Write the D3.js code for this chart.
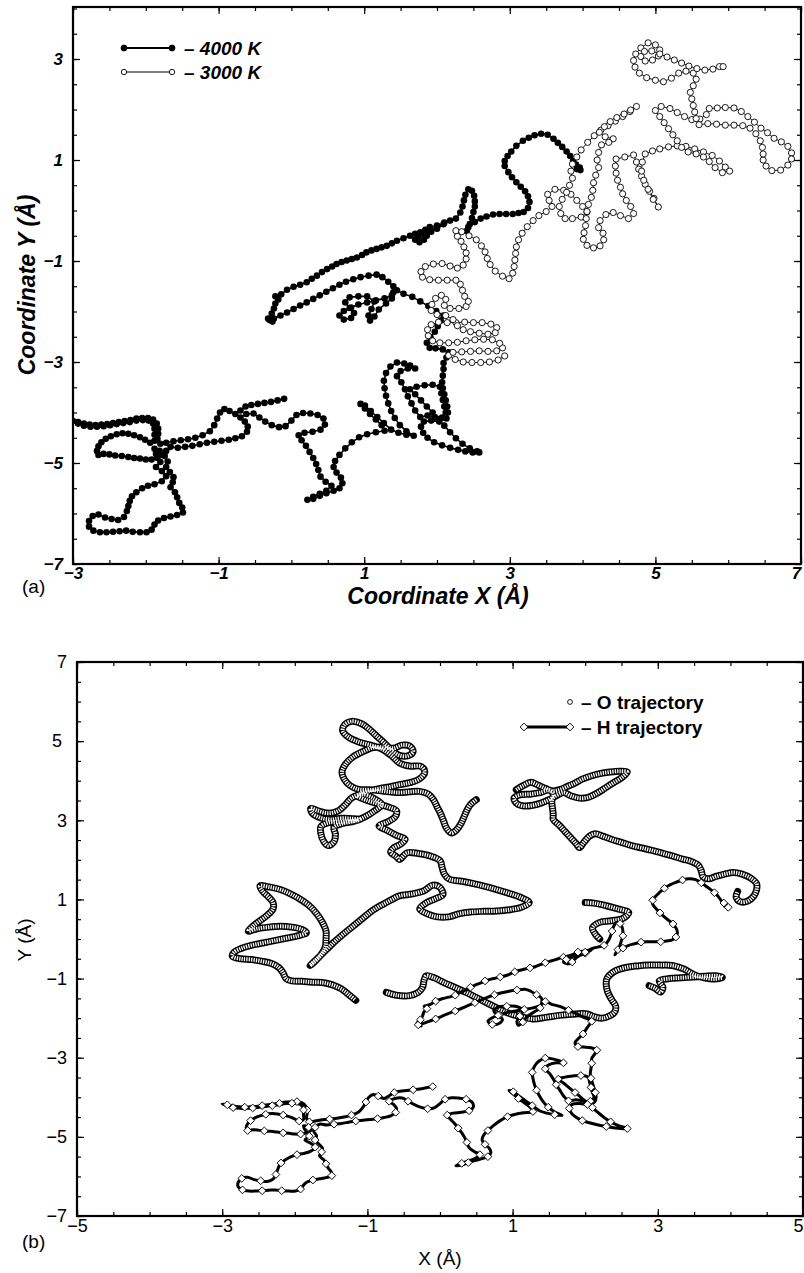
<!DOCTYPE html>
<html>
<head>
<meta charset="utf-8">
<script src="https://cdn.jsdelivr.net/npm/d3@7"></script>
<style>
  body { margin: 0; background: #fff; }
  svg { display: block; }
</style>
</head>
<body>
<svg id="chart" width="804" height="1273"></svg>
<script>
// ---- tick labels ----
const xTicksA = [-3, -1, 1, 3, 5, 7];
const yTicksA = [-7, -5, -3, -1, 1, 3];
const xTicksB = [-5, -3, -1, 1, 3, 5];
const yTicksB = [-7, -5, -3, -1, 1, 3, 5, 7];
const legendA = ['4000 K', '3000 K'];
const legendB = ['O trajectory', 'H trajectory'];

// ---- 4000 K run (same H track is shown in panel b) ----
const traj4000 = [
[-0.10,-3.73],[-0.19,-3.76],[-0.28,-3.79],[-0.37,-3.81],[-0.46,-3.83],[-0.55,-3.85],[-0.63,-3.88],[-0.70,-3.96],[-0.77,-4.03],[-0.85,-3.97],[-0.92,-3.93],[-0.98,-4.00],[-1.02,-4.12],[-1.06,-4.25],[-1.12,-4.37],[-1.22,-4.45],[-1.32,-4.50],[-1.42,-4.53],[-1.52,-4.55],[-1.62,-4.57],[-1.72,-4.60],[-1.80,-4.62],
[-1.84,-4.52],[-1.83,-4.42],[-1.83,-4.32],[-1.85,-4.22],[-1.90,-4.14],
[-1.97,-4.11],[-2.05,-4.11],[-2.13,-4.12],[-2.21,-4.15],[-2.29,-4.17],[-2.37,-4.19],[-2.45,-4.21],[-2.53,-4.23],[-2.61,-4.24],[-2.69,-4.25],[-2.77,-4.24],[-2.85,-4.22],[-2.93,-4.19],[-3.00,-4.17],
[-2.93,-4.22],[-2.85,-4.26],[-2.76,-4.28],[-2.67,-4.28],[-2.58,-4.27],[-2.49,-4.25],[-2.40,-4.23],[-2.31,-4.21],[-2.22,-4.19],[-2.13,-4.16],[-2.04,-4.15],[-1.96,-4.16],[-1.90,-4.22],[-1.88,-4.32],[-1.88,-4.44],[-1.88,-4.56],
[-1.94,-4.60],[-2.01,-4.54],[-2.08,-4.49],[-2.16,-4.45],[-2.24,-4.42],[-2.32,-4.41],[-2.40,-4.43],[-2.48,-4.47],[-2.55,-4.52],[-2.61,-4.59],[-2.65,-4.67],[-2.67,-4.76],[-2.65,-4.84],
[-2.58,-4.82],[-2.50,-4.83],[-2.42,-4.85],[-2.33,-4.86],[-2.24,-4.88],[-2.16,-4.90],[-2.08,-4.91],[-2.00,-4.93],[-1.92,-4.93],[-1.84,-4.90],[-1.78,-4.84],[-1.81,-4.76],[-1.88,-4.72],[-1.86,-4.82],
[-1.80,-4.98],[-1.86,-5.08],[-1.78,-5.16],[-1.72,-5.26],[-1.78,-5.36],[-1.88,-5.42],[-1.97,-5.45],[-2.05,-5.50],[-2.13,-5.58],[-2.19,-5.66],[-2.22,-5.75],[-2.24,-5.85],[-2.26,-5.95],[-2.30,-6.07],[-2.38,-6.13],[-2.47,-6.11],[-2.56,-6.08],[-2.65,-6.02],[-2.73,-6.05],[-2.78,-6.15],[-2.78,-6.26],[-2.72,-6.34],[-2.63,-6.37],[-2.54,-6.37],[-2.45,-6.36],[-2.36,-6.35],[-2.27,-6.34],[-2.18,-6.36],[-2.08,-6.37],[-1.99,-6.37],[-1.92,-6.32],[-1.88,-6.22],[-1.83,-6.14],[-1.75,-6.09],[-1.66,-6.06],[-1.57,-6.03],[-1.49,-5.98],[-1.50,-5.88],[-1.54,-5.79],[-1.57,-5.68],[-1.60,-5.58],[-1.66,-5.48],[-1.63,-5.38],[-1.62,-5.28],[-1.67,-5.18],[-1.72,-5.08],[-1.70,-4.97],[-1.74,-4.86],[-1.72,-4.76],[-1.66,-4.68],
[-1.56,-4.70],[-1.46,-4.68],[-1.36,-4.66],[-1.26,-4.63],[-1.16,-4.60],[-1.06,-4.58],[-0.96,-4.56],[-0.86,-4.54],[-0.77,-4.51],[-0.68,-4.47],[-0.61,-4.38],[-0.60,-4.28],[-0.64,-4.18],[-0.70,-4.10],[-0.62,-4.03],[-0.52,-4.02],[-0.44,-4.10],[-0.36,-4.18],[-0.27,-4.25],[-0.17,-4.29],[-0.08,-4.27],
[0.00,-4.16],[0.07,-4.05],[0.16,-4.01],[0.26,-4.02],[0.36,-4.05],[0.44,-4.12],[0.46,-4.24],[0.40,-4.34],[0.29,-4.38],[0.18,-4.40],[0.10,-4.45],[0.14,-4.55],[0.20,-4.66],[0.25,-4.78],[0.30,-4.90],[0.34,-5.02],[0.37,-5.14],[0.40,-5.27],[0.47,-5.37],[0.55,-5.45],[0.48,-5.55],[0.39,-5.61],[0.30,-5.67],[0.22,-5.73],[0.30,-5.71],[0.39,-5.65],[0.48,-5.60],[0.58,-5.55],[0.66,-5.50],[0.70,-5.40],[0.68,-5.29],[0.62,-5.19],[0.58,-5.08],[0.60,-4.96],[0.66,-4.84],[0.74,-4.71],[0.83,-4.59],[0.93,-4.49],[1.04,-4.43],[1.16,-4.39],[1.28,-4.36],
[1.24,-4.25],[1.16,-4.14],[1.08,-4.03],[1.01,-3.92],[0.95,-3.83],[1.01,-3.86],[1.09,-3.97],[1.18,-4.09],[1.27,-4.21],[1.37,-4.34],[1.47,-4.40],[1.58,-4.44],[1.68,-4.46],
[1.58,-4.37],[1.49,-4.25],[1.42,-4.11],[1.37,-3.97],[1.33,-3.82],[1.30,-3.67],[1.28,-3.52],[1.27,-3.37],[1.30,-3.22],[1.36,-3.09],[1.45,-3.01],[1.55,-3.03],[1.63,-3.07],[1.70,-3.13],[1.60,-3.13],[1.50,-3.18],[1.45,-3.28],[1.51,-3.40],[1.56,-3.54],[1.60,-3.68],[1.65,-3.82],[1.70,-3.96],[1.77,-4.09],[1.87,-4.06],[1.97,-4.09],[2.07,-4.10],[2.12,-4.00],[2.10,-3.88],[2.08,-3.75],[2.06,-3.62],[2.04,-3.49],[1.94,-3.45],[1.83,-3.46],[1.72,-3.49],[1.63,-3.54],[1.70,-3.64],[1.78,-3.76],[1.86,-3.88],[1.94,-4.00],[2.02,-4.13],[2.10,-4.26],[2.18,-4.39],[2.26,-4.51],[2.35,-4.62],[2.45,-4.71],[2.55,-4.77],[2.58,-4.79],[2.49,-4.79],[2.39,-4.77],[2.29,-4.74],[2.18,-4.70],[2.07,-4.65],[1.96,-4.59],[1.87,-4.50],[1.81,-4.40],[1.78,-4.28],[1.82,-4.18],[1.92,-4.16],[2.03,-4.18],[2.13,-4.12],[2.15,-4.00],[2.14,-3.88],[2.12,-3.76],[2.10,-3.64],[2.08,-3.52],[2.07,-3.40],[2.08,-3.27],[2.09,-3.14],[2.09,-3.02],
[2.13,-2.91],[2.16,-2.81],[2.08,-2.75],[1.98,-2.73],[1.90,-2.72],[1.86,-2.62],[1.91,-2.51],[1.97,-2.40],[2.01,-2.29],[2.05,-2.18],[2.09,-2.08],
[1.99,-1.99],[1.88,-1.89],[1.77,-1.80],[1.66,-1.71],[1.54,-1.65],[1.45,-1.58],
[1.38,-1.68],[1.28,-1.74],[1.16,-1.78],[1.04,-1.82],[0.92,-1.86],[0.82,-1.92],[0.72,-1.99],[0.66,-2.08],[0.72,-2.16],[0.82,-2.13],[0.86,-2.03],[0.80,-1.93],[0.74,-1.82],[0.80,-1.72],[0.92,-1.70],[1.04,-1.70],[1.14,-1.80],[1.10,-1.95],[1.06,-2.08],[1.08,-2.18],[1.14,-2.10],[1.20,-1.96],[1.30,-1.84],[1.38,-1.74],[1.40,-1.62],[1.40,-1.50],
[1.33,-1.41],[1.25,-1.32],[1.17,-1.27],[1.06,-1.29],[0.95,-1.32],[0.85,-1.36],[0.75,-1.41],[0.66,-1.47],[0.57,-1.54],[0.48,-1.61],[0.39,-1.68],[0.30,-1.75],[0.21,-1.82],[0.12,-1.88],[0.03,-1.95],[-0.06,-2.02],[-0.15,-2.08],[-0.24,-2.14],[-0.30,-2.17],
[-0.26,-2.20],[-0.32,-2.14],[-0.27,-2.04],[-0.24,-1.94],[-0.22,-1.84],[-0.18,-1.76],[-0.22,-1.70],[-0.14,-1.66],[-0.06,-1.57],[0.03,-1.51],[0.12,-1.47],[0.21,-1.42],[0.28,-1.35],[0.35,-1.29],[0.42,-1.22],[0.49,-1.16],[0.56,-1.11],[0.62,-1.06],[0.69,-1.02],[0.76,-0.99],[0.83,-0.96],[0.90,-0.93],[0.97,-0.88],[1.03,-0.83],[1.10,-0.79],[1.17,-0.76],[1.24,-0.73],[1.31,-0.70],[1.38,-0.65],[1.45,-0.60],[1.54,-0.55],[1.63,-0.50],[1.70,-0.46],[1.77,-0.43],[1.84,-0.38],[1.90,-0.33],[2.00,-0.30],[2.09,-0.27],
[2.00,-0.36],[1.92,-0.42],[1.86,-0.50],[1.82,-0.58],[1.76,-0.63],[1.70,-0.58],[1.74,-0.52],[1.80,-0.46],[1.90,-0.40],[2.00,-0.33],[2.10,-0.24],[2.18,-0.20],[2.26,-0.16],
[2.32,-0.04],[2.35,0.08],[2.37,0.20],[2.39,0.31],[2.43,0.42],[2.48,0.39],[2.51,0.29],[2.52,0.18],[2.52,0.08],[2.50,-0.03],[2.48,-0.15],[2.45,-0.27],[2.41,-0.40],[2.43,-0.33],[2.52,-0.23],[2.60,-0.16],[2.68,-0.12],[2.77,-0.08],[2.86,-0.07],[2.95,-0.07],[3.04,-0.07],[3.12,-0.05],[3.19,-0.03],[3.25,0.05],[3.27,0.17],[3.25,0.28],[3.21,0.38],[3.15,0.47],[3.09,0.56],[3.03,0.66],[2.98,0.76],[2.93,0.88],[2.93,0.98],[2.97,1.08],[3.02,1.17],[3.09,1.28],[3.18,1.38],[3.26,1.44],[3.34,1.49],[3.43,1.52],[3.52,1.50],[3.60,1.42],[3.66,1.34],[3.72,1.26],[3.78,1.17],[3.83,1.08],[3.87,0.98],[3.91,0.91],[3.96,0.85],[3.92,0.82],[3.97,0.80]
];

// ---- 3000 K run ----
const traj3000 = [
[2.93,-2.88],[2.84,-2.96],[2.72,-3.00],[2.60,-3.01],[2.48,-3.01],[2.36,-3.00],[2.25,-2.95],[2.16,-2.87],[2.22,-2.81],[2.34,-2.80],[2.46,-2.79],[2.58,-2.78],[2.70,-2.79],[2.82,-2.78],[2.90,-2.72],[2.86,-2.63],[2.76,-2.56],[2.64,-2.55],[2.52,-2.56],[2.40,-2.58],[2.28,-2.61],[2.16,-2.62],[2.04,-2.62],[1.94,-2.58],[1.88,-2.48],[1.87,-2.36],[1.92,-2.26],[2.02,-2.21],[2.14,-2.22],[2.26,-2.22],[2.38,-2.21],[2.50,-2.22],[2.62,-2.22],[2.74,-2.25],[2.82,-2.32],[2.80,-2.42],[2.70,-2.45],[2.58,-2.43],[2.46,-2.40],[2.36,-2.36],[2.28,-2.28],[2.22,-2.16],[2.12,-2.08],[2.00,-2.06],[1.92,-1.98],[1.93,-1.86],[1.98,-1.74],[2.06,-1.68],[2.12,-1.76],[2.10,-1.88],[2.18,-1.94],[2.30,-1.94],[2.40,-1.90],[2.43,-1.80],[2.38,-1.70],[2.35,-1.58],[2.32,-1.46],[2.26,-1.38],[2.14,-1.38],[2.02,-1.38],[1.90,-1.37],[1.80,-1.32],[1.78,-1.21],[1.84,-1.11],[1.95,-1.06],[2.07,-1.05],[2.18,-1.10],[2.28,-1.14],[2.36,-1.08],[2.40,-0.96],[2.40,-0.84],[2.37,-0.72],[2.33,-0.61],[2.28,-0.51],[2.26,-0.40],
[2.34,-0.42],[2.44,-0.50],[2.54,-0.58],[2.61,-0.70],[2.66,-0.82],[2.69,-0.95],[2.73,-1.07],[2.80,-1.20],[2.90,-1.30],[2.99,-1.35],[3.04,-1.24],[3.06,-1.11],[3.07,-0.98],[3.08,-0.85],[3.09,-0.72],[3.12,-0.58],[3.17,-0.45],[3.24,-0.32],[3.32,-0.20],[3.40,-0.10],[3.50,-0.02],[3.58,0.08],[3.54,0.20],[3.52,0.32],[3.62,0.42],[3.74,0.40],[3.84,0.32],[3.92,0.20],[4.00,0.08],[4.06,-0.03],[3.98,-0.13],[3.86,-0.16],[3.76,-0.16],[3.70,-0.06],[3.68,0.08],[3.72,0.22],[3.78,0.36],[3.82,0.50],[3.86,0.64],[3.84,0.78],[3.86,0.92],[3.92,1.06],[3.98,1.20],
[4.07,1.35],[4.16,1.48],[4.25,1.59],[4.35,1.68],[4.45,1.77],[4.55,1.86],[4.65,1.96],[4.74,2.06],[4.66,1.99],[4.57,1.91],[4.47,1.84],[4.38,1.76],[4.30,1.66],[4.23,1.55],[4.31,1.46],[4.42,1.42],[4.36,1.35],[4.26,1.30],
[4.22,1.15],[4.20,1.00],[4.22,0.85],[4.18,0.70],[4.15,0.55],[4.14,0.40],[4.12,0.26],[4.08,0.12],[4.06,-0.02],[4.05,-0.16],[4.04,-0.30],[4.02,-0.44],[4.01,-0.57],[4.06,-0.69],[4.15,-0.74],[4.24,-0.70],[4.29,-0.58],[4.28,-0.45],[4.22,-0.34],[4.24,-0.20],[4.32,-0.08],[4.42,-0.04],[4.52,-0.10],[4.63,-0.16],[4.70,-0.06],[4.66,0.08],[4.60,0.20],[4.55,0.33],[4.52,0.46],[4.48,0.60],[4.46,0.74],[4.45,0.88],[4.46,1.02],
[4.58,1.06],[4.70,1.10],[4.74,0.96],[4.77,0.82],[4.81,0.68],[4.86,0.52],[4.92,0.38],[4.98,0.24],[5.04,0.07],[4.97,0.22],[4.90,0.42],[4.84,0.60],[4.81,0.78],[4.82,0.96],[4.86,1.12],[4.96,1.18],[5.06,1.22],[5.18,1.26],[5.30,1.28],[5.42,1.27],[5.54,1.22],[5.66,1.16],[5.78,1.09],[5.88,0.98],[5.96,0.86],[6.02,0.78],[5.92,0.75],[5.82,0.85],[5.74,0.97],[5.66,1.06],
[5.56,1.12],[5.45,1.16],[5.36,1.25],[5.30,1.38],[5.24,1.50],[5.18,1.62],[5.12,1.74],[5.06,1.86],[5.00,1.98],[5.08,2.06],[5.20,2.02],[5.30,1.94],[5.40,1.86],[5.50,1.80],[5.61,1.81],[5.70,1.90],[5.74,2.02],
[5.85,2.03],[5.96,2.04],[6.08,2.03],[6.18,1.96],[6.27,1.86],[6.36,1.75],[6.45,1.63],[6.54,1.54],[6.63,1.43],[6.73,1.36],[6.82,1.27],[6.87,1.14],[6.87,1.02],[6.82,0.90],[6.72,0.80],[6.60,0.79],[6.52,0.88],[6.48,1.00],[6.48,1.12],[6.47,1.25],[6.44,1.38],[6.38,1.52],[6.30,1.63],[6.20,1.68],[6.08,1.69],[5.96,1.69],[5.84,1.71],[5.72,1.72],[5.60,1.70],
[5.56,1.82],[5.54,1.95],[5.52,2.08],[5.50,2.21],[5.48,2.34],[5.52,2.47],[5.56,2.60],[5.52,2.72],[5.42,2.76],
[5.32,2.72],[5.22,2.62],[5.11,2.55],[5.00,2.58],[4.88,2.63],[4.78,2.72],[4.72,2.84],[4.70,2.97],[4.73,3.10],[4.80,3.22],[4.90,3.32],[5.00,3.28],[5.06,3.18],[5.04,3.06],[4.96,2.98],[4.86,2.96],[4.80,3.05],[4.85,3.15],[4.95,3.16],[5.06,3.10],[5.16,3.04],[5.26,2.98],[5.36,2.92],[5.46,2.86],[5.57,2.81],[5.68,2.78],[5.79,2.80],[5.88,2.85],[5.93,2.85]
];

// ---- O trajectory (panel b); null marks a break between pieces ----
const trajO = [
[0.50,3.52],[0.42,3.40],[0.37,3.25],[0.33,3.08],[0.29,2.92],[0.23,2.76],[0.16,2.68],[0.09,2.80],[0.05,2.98],[0.01,3.16],[-0.04,3.34],[-0.09,3.52],[-0.16,3.66],[-0.28,3.73],[-0.42,3.72],[-0.56,3.70],[-0.70,3.72],[-0.84,3.75],[-0.98,3.77],[-1.12,3.78],[-1.24,3.88],[-1.32,4.04],[-1.35,4.22],[-1.30,4.42],[-1.20,4.60],[-1.06,4.74],[-0.92,4.84],[-0.78,4.84],[-0.64,4.82],[-0.52,4.90],[-0.42,4.88],[-0.37,4.74],[-0.44,4.63],[-0.56,4.64],[-0.66,4.76],[-0.76,4.94],[-0.88,5.14],[-0.98,5.31],[-1.08,5.44],[-1.22,5.50],[-1.32,5.40],[-1.34,5.26],[-1.26,5.10],[-1.12,4.98],[-0.96,4.90],[-0.80,4.80],[-0.66,4.62],[-0.56,4.45],[-0.42,4.37],[-0.26,4.36],[-0.21,4.22],[-0.28,4.05],[-0.42,3.95],[-0.56,3.90],[-0.70,3.84],[-0.84,3.80],[-0.98,3.74],[-1.10,3.66],[-1.22,3.56],[-1.30,3.40],[-1.40,3.24],[-1.54,3.18],[-1.68,3.24],[-1.78,3.30],[-1.76,3.18],[-1.64,3.06],[-1.50,3.02],[-1.36,3.05],[-1.22,3.04],[-1.10,3.02],[-1.22,2.98],[-1.38,2.96],[-1.54,2.94],[-1.64,2.84],[-1.64,2.66],[-1.60,2.46],[-1.54,2.36],[-1.46,2.46],[-1.44,2.64],[-1.46,2.82],[-1.34,2.92],[-1.18,2.98],[-1.02,3.10],[-0.90,3.24],[-0.80,3.40],[-0.92,3.56],[-1.06,3.66],[-1.14,3.62],[-1.00,3.50],[-0.86,3.42],[-0.72,3.34],[-0.60,3.24],[-0.62,3.08],[-0.72,2.96],[-0.84,2.86],[-0.72,2.74],[-0.60,2.62],[-0.48,2.52],[-0.54,2.40],[-0.64,2.30],[-0.68,2.20],[-0.60,2.08],[-0.56,2.01],[-0.45,2.18],[-0.30,2.16],[-0.14,2.10],[0.00,1.98],[0.03,1.80],[0.06,1.64],[0.13,1.51],[0.30,1.46],[0.46,1.40],[0.62,1.33],[0.78,1.25],[0.94,1.16],[1.10,1.06],[1.23,0.92],[1.12,0.80],[0.96,0.74],[0.78,0.71],[0.60,0.70],[0.42,0.68],[0.27,0.64],[0.12,0.56],[-0.04,0.56],[-0.18,0.64],[-0.28,0.76],[-0.20,0.90],[-0.06,1.02],[0.04,1.12],[0.00,1.30],[-0.10,1.36],[-0.22,1.22],[-0.38,1.14],[-0.56,1.09],[-0.66,1.00],[-0.76,0.90],[-0.86,0.80],[-0.96,0.68],[-1.06,0.53],[-1.16,0.38],[-1.26,0.23],[-1.36,0.08],[-1.46,-0.08],[-1.56,-0.26],[-1.66,-0.44],[-1.74,-0.58],[-1.79,-0.67],[-1.72,-0.56],[-1.64,-0.40],[-1.58,-0.20],[-1.57,0.00],[-1.57,0.20],[-1.62,0.42],[-1.70,0.64],[-1.80,0.84],[-1.92,1.00],[-2.06,1.14],[-2.20,1.25],[-2.34,1.31],[-2.48,1.34],[-2.44,1.20],[-2.36,1.06],[-2.30,0.92],[-2.30,0.76],[-2.38,0.60],[-2.48,0.46],[-2.58,0.32],[-2.64,0.20],[-2.52,0.26],[-2.36,0.30],[-2.20,0.32],[-2.04,0.30],[-1.90,0.24],[-1.84,0.16],[-1.96,0.08],[-2.12,0.02],[-2.28,-0.04],[-2.44,-0.10],[-2.60,-0.16],[-2.74,-0.24],[-2.84,-0.34],[-2.86,-0.44],[-2.74,-0.50],[-2.60,-0.52],[-2.46,-0.56],[-2.32,-0.62],[-2.22,-0.72],[-2.16,-0.86],[-2.12,-1.00],[-2.04,-1.06],[-1.90,-1.07],[-1.76,-1.09],[-1.62,-1.10],[-1.48,-1.16],[-1.36,-1.26],[-1.26,-1.40],[-1.16,-1.55],
null,
[-0.74,-1.35],[-0.60,-1.42],[-0.42,-1.43],[-0.30,-1.35],[-0.24,-1.22],[-0.22,-1.05],[-0.19,-0.93],[-0.08,-0.98],[0.04,-1.09],[0.20,-1.22],[0.36,-1.35],[0.50,-1.48],[0.63,-1.60],[0.77,-1.73],[0.91,-1.85],[1.08,-1.95],[1.28,-2.02],[1.46,-1.98],[1.64,-1.93],[1.82,-1.90],[2.01,-1.89],[2.12,-1.96],[2.24,-2.00],[2.40,-1.86],[2.42,-1.70],[2.36,-1.52],[2.31,-1.34],[2.29,-1.16],[2.30,-1.00],[2.40,-0.82],[2.56,-0.72],[2.72,-0.68],[2.88,-0.66],[3.04,-0.66],[3.20,-0.67],[3.36,-0.76],[3.50,-0.90],[3.64,-0.98],[3.78,-1.01],[3.89,-0.97],[3.80,-0.93],[3.64,-0.94],[3.48,-0.96],[3.32,-0.98],[3.16,-1.00],[3.02,-1.06],[3.07,-1.22],[3.04,-1.34],[2.96,-1.24],[2.88,-1.18],
null,
[1.05,3.77],[1.15,3.88],[1.25,3.96],[1.36,3.88],[1.46,3.80],[1.56,3.74],[1.66,3.78],[1.76,3.86],[1.86,3.94],[1.96,4.04],[2.08,4.12],[2.20,4.18],[2.34,4.22],[2.48,4.24],[2.58,4.22],[2.52,4.10],[2.40,3.96],[2.28,3.82],[2.16,3.68],[2.04,3.58],[1.92,3.56],[1.80,3.62],[1.70,3.70],[1.60,3.62],[1.50,3.52],[1.40,3.44],[1.28,3.38],[1.16,3.36],[1.06,3.42],[1.02,3.56],[1.10,3.64],[1.24,3.66],[1.38,3.70],[1.50,3.76],[1.56,3.66],[1.54,3.48],[1.55,3.30],[1.56,3.14],[1.56,3.02],[1.64,2.88],[1.72,2.72],[1.80,2.56],[1.88,2.40],[1.92,2.31],[1.98,2.44],[2.06,2.60],[2.14,2.66],[2.24,2.60],[2.36,2.52],[2.50,2.44],[2.64,2.36],[2.78,2.30],[2.92,2.24],[3.06,2.17],[3.20,2.10],[3.34,2.02],[3.46,1.96],[3.56,1.86],[3.60,1.72],[3.62,1.58],[3.70,1.52],[3.80,1.58],[3.92,1.64],[4.04,1.68],[4.16,1.64],[4.28,1.54],[4.36,1.40],[4.36,1.24],[4.32,1.08],[4.24,0.96],[4.14,0.94],[4.08,1.06],[4.10,1.20],
null,
[2.00,0.92],[2.14,0.90],[2.29,0.84],[2.45,0.76],[2.60,0.67],[2.52,0.52],[2.36,0.46],[2.20,0.42],[2.10,0.28],[2.14,0.12],[2.20,0.00]
];
const trajH = traj4000;

const svg = d3.select('#chart');
const FONT = '"Liberation Sans", Arial, Helvetica, sans-serif';

// scales
const xA = d3.scaleLinear().domain([-3, 7]).range([73, 801]);
const yA = d3.scaleLinear().domain([-7, 4.03]).range([564, 7]);
const xB = d3.scaleLinear().domain([-5, 5]).range([77, 803]);
const yB = d3.scaleLinear().domain([-7, 7]).range([1216, 662]);

function frame(g, x, y, xMajor, yMajor, font) {
    const [x0, x1] = x.range();
    const [y0, y1] = y.range();
    const fmt = d3.format('d');
    const xMinor = d3.range(x.domain()[0], x.domain()[1] + 0.001, 0.5);
    const yMinor = d3.range(Math.ceil(y.domain()[0] * 2) / 2, y.domain()[1] + 0.001, 0.5);
    const axes = [
        [d3.axisBottom(x), `translate(0,${y0})`, xMinor, xMajor, true, font.xPad],
        [d3.axisTop(x), `translate(0,${y1})`, xMinor, xMajor, false, 0],
        [d3.axisLeft(y), `translate(${x0},0)`, yMinor, yMajor, true, font.yPad],
        [d3.axisRight(y), `translate(${x1},0)`, yMinor, yMajor, false, 0]
    ];
    axes.forEach(([ax, tr, minor, major, labels, pad]) => {
        g.append('g').attr('transform', tr)
            .call(ax.tickValues(minor).tickSize(-4).tickFormat(''));
        const gm = g.append('g').attr('transform', tr)
            .call(ax.tickValues(major).tickSize(-7).tickPadding(pad)
                .tickFormat(labels ? fmt : ''));
        gm.attr('font-family', FONT)
          .attr('font-size', font.size)
          .attr('font-weight', font.weight)
          .attr('font-style', font.style);
    });
    g.selectAll('.domain').remove();
    g.selectAll('.tick line').attr('stroke', '#000').attr('stroke-width', 1.2);
    g.selectAll('.tick text').attr('fill', '#000');
    // last x label sits on the page edge: pull it in a little
    g.selectAll('.tick text').filter(d => d === x.domain()[1]).attr('dx', -5);
    g.append('rect')
        .attr('x', x0).attr('y', y1)
        .attr('width', x1 - x0).attr('height', y0 - y1)
        .attr('fill', 'none').attr('stroke', '#000').attr('stroke-width', 2.2);
}

function clipFor(id, x, y) {
    svg.append('clipPath').attr('id', id).append('rect')
        .attr('x', x.range()[0]).attr('y', y.range()[1])
        .attr('width', x.range()[1] - x.range()[0])
        .attr('height', y.range()[0] - y.range()[1]);
}
clipFor('clipA', xA, yA);
clipFor('clipB', xB, yB);

// ================= panel (a) =================
const gA = svg.append('g');
const plotA = gA.append('g').attr('clip-path', 'url(#clipA)');
const lineA = d3.line().x(d => xA(d[0])).y(d => yA(d[1]));

plotA.append('path').datum(traj4000).attr('d', lineA)
    .attr('fill', 'none').attr('stroke', '#000').attr('stroke-width', 1.6);
plotA.selectAll('circle.hot').data(traj4000).join('circle').attr('class', 'hot')
    .attr('cx', d => xA(d[0])).attr('cy', d => yA(d[1])).attr('r', 3.3)
    .attr('fill', '#000');

plotA.append('path').datum(traj3000).attr('d', lineA)
    .attr('fill', 'none').attr('stroke', '#000').attr('stroke-width', 0.9);
plotA.selectAll('circle.cold').data(traj3000).join('circle').attr('class', 'cold')
    .attr('cx', d => xA(d[0])).attr('cy', d => yA(d[1])).attr('r', 3.1)
    .attr('fill', '#fff').attr('stroke', '#000').attr('stroke-width', 0.9);

frame(gA, xA, yA, xTicksA, yTicksA,
    { size: 17, weight: 'bold', style: 'italic', xPad: 3, yPad: 10 });

// legend (a)
[0, 1].forEach(i => {
    const ly = 48 + i * 24;
    const lg = gA.append('g');
    lg.append('line').attr('x1', 124).attr('x2', 172).attr('y1', ly).attr('y2', ly)
        .attr('stroke', '#000').attr('stroke-width', i === 0 ? 2 : 1);
    [124, 172].forEach(cx => lg.append('circle').attr('cx', cx).attr('cy', ly)
        .attr('r', i === 0 ? 3 : 2.7)
        .attr('fill', i === 0 ? '#000' : '#fff')
        .attr('stroke', '#000').attr('stroke-width', 0.9));
    lg.append('text').attr('x', 184).attr('y', ly + 7)
        .attr('font-family', FONT).attr('font-size', 19)
        .attr('font-weight', 'bold').attr('font-style', 'italic')
        .text('\u2013 ' + legendA[i]);
});

gA.append('text').attr('x', 438).attr('y', 604).attr('text-anchor', 'middle')
    .attr('font-family', FONT).attr('font-size', 23)
    .attr('font-weight', 'bold').attr('font-style', 'italic')
    .text('Coordinate X (\u00c5)');
gA.append('text').attr('transform', 'translate(35,285) rotate(-90)')
    .attr('text-anchor', 'middle')
    .attr('font-family', FONT).attr('font-size', 23)
    .attr('font-weight', 'bold').attr('font-style', 'italic')
    .text('Coordinate Y (\u00c5)');
gA.append('text').attr('x', 22).attr('y', 593)
    .attr('font-family', FONT).attr('font-size', 19).text('(a)');

// ================= panel (b) =================
const gB = svg.append('g');
const plotB = gB.append('g').attr('clip-path', 'url(#clipB)');
const lineB = d3.line().defined(d => d != null).x(d => xB(d[0])).y(d => yB(d[1]))
    .curve(d3.curveCatmullRom.alpha(0.5));

// O trajectory: dense open circles look like a hatched band
plotB.append('path').datum(trajO).attr('d', lineB)
    .attr('fill', 'none').attr('stroke', '#000').attr('stroke-width', 7)
    .attr('stroke-linejoin', 'round').attr('stroke-linecap', 'round');
plotB.append('path').datum(trajO).attr('d', lineB)
    .attr('fill', 'none').attr('stroke', '#fff').attr('stroke-width', 4)
    .attr('stroke-dasharray', '1.3 1.1');

// H trajectory
plotB.append('path').datum(trajH).attr('d', lineB)
    .attr('fill', 'none').attr('stroke', '#000').attr('stroke-width', 3)
    .attr('stroke-linejoin', 'round');
const diamond = d3.symbol(d3.symbolSquare, 30);
plotB.selectAll('path.hd').data(trajH.filter((d, i) => i % 3 === 0)).join('path')
    .attr('class', 'hd').attr('d', diamond)
    .attr('transform', d => `translate(${xB(d[0])},${yB(d[1])}) rotate(45)`)
    .attr('fill', '#fff').attr('stroke', '#000').attr('stroke-width', 0.9);

frame(gB, xB, yB, xTicksB, yTicksB,
    { size: 18, weight: 'normal', style: 'normal', xPad: 3, yPad: 10 });

// legend (b)
const lgB = gB.append('g');
lgB.append('circle').attr('cx', 570).attr('cy', 702).attr('r', 2.4)
    .attr('fill', '#fff').attr('stroke', '#000').attr('stroke-width', 0.9);
lgB.append('line').attr('x1', 524).attr('x2', 570).attr('y1', 727).attr('y2', 727)
    .attr('stroke', '#000').attr('stroke-width', 3);
[524, 570].forEach(cx => lgB.append('path').attr('d', diamond)
    .attr('transform', `translate(${cx},727) rotate(45)`)
    .attr('fill', '#fff').attr('stroke', '#000').attr('stroke-width', 0.9));
legendB.forEach((t, i) => {
    lgB.append('text').attr('x', 581).attr('y', 709 + i * 25)
        .attr('font-family', FONT).attr('font-size', 19).attr('font-weight', 'bold')
        .text('\u2013 ' + t);
});

gB.append('text').attr('x', 440).attr('y', 1265).attr('text-anchor', 'middle')
    .attr('font-family', FONT).attr('font-size', 19).text('X (\u00c5)');
gB.append('text').attr('transform', 'translate(31,940) rotate(-90)')
    .attr('text-anchor', 'middle')
    .attr('font-family', FONT).attr('font-size', 19).text('Y (\u00c5)');
gB.append('text').attr('x', 22).attr('y', 1248)
    .attr('font-family', FONT).attr('font-size', 19).text('(b)');
</script>
</body>
</html>
